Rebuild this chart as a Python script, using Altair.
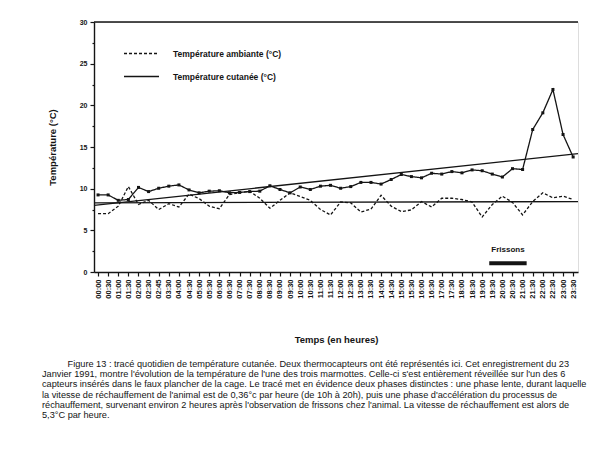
import altair as alt
import pandas as pd

labels = ["00:00", "00:30", "01:00", "01:30", "02:00", "02:30", "02:45", "03:30",
          "04:00", "04:30", "05:00", "05:30", "06:00", "06:30", "07:00", "07:30",
          "08:00", "08:30", "09:00", "09:30", "10:00", "10:30", "11:00", "11:30",
          "12:00", "12:30", "13:00", "13:30", "14:00", "14:30", "15:00", "15:30",
          "16:00", "16:30", "17:00", "17:30", "18:00", "18:30", "19:00", "19:30",
          "20:00", "20:30", "21:00", "21:30", "22:00", "22:30", "23:00", "23:30"]

skin = [9.25, 9.25, 8.6, 8.7, 10.15, 9.65, 10.05, 10.3, 10.45, 9.85, 9.5, 9.7,
        9.75, 9.5, 9.55, 9.65, 9.7, 10.35, 9.9, 9.5, 10.2, 9.9, 10.3, 10.4,
        10.05, 10.25, 10.75, 10.75, 10.55, 11.1, 11.7, 11.45, 11.3, 11.85, 11.75, 12.05,
        11.9, 12.25, 12.15, 11.75, 11.4, 12.4, 12.3, 17.1, 19.1, 21.9, 16.5, 13.8]

ambient = [7.0, 7.0, 7.9, 10.25, 8.1, 8.6, 7.5, 8.2, 7.8, 9.35, 8.8, 7.9,
           7.6, 9.3, 9.5, 9.7, 8.85, 7.65, 8.6, 9.5, 9.05, 8.6, 7.5, 6.85,
           8.4, 8.3, 7.2, 7.55, 9.2, 7.9, 7.25, 7.45, 8.45, 7.8, 8.85, 8.85,
           8.7, 8.4, 6.6, 8.1, 9.1, 8.35, 6.85, 8.45, 9.5, 8.9, 9.1, 8.7]

series_names = ["Température ambiante (°C)", "Température cutanée (°C)"]

# two straight trend lines (start / end values)
trend_names = ["plateau", "pente"]
trend_x = [-0.4, 47.48]
trend_start = [8.3, 8.0]
trend_end = [8.45, 14.2]

# shivering period
shiver_label = "Frissons"
shiver_from = 38.7
shiver_to = 42.4
shiver_level = 1.05
shiver_text_level = 2.7

caption = [
    "\u200b" + "\u00a0" * 10 + "Figure 13 : tracé quotidien de température cutanée. Deux thermocapteurs ont été représentés ici. Cet enregistrement du 23",
    "Janvier 1991, montre l'évolution de la température de l'une des trois marmottes. Celle-ci s'est entièrement réveillée sur l'un des 6",
    "capteurs insérés dans le faux plancher de la cage. Le tracé met en évidence deux phases distinctes : une phase lente, durant laquelle",
    "la vitesse de réchauffement de l'animal est de 0,36°c par heure (de 10h à 20h), puis une phase d'accélération du processus de",
    "réchauffement, survenant environ 2 heures après l'observation de frissons chez l'animal. La vitesse de réchauffement est alors de",
    "5,3°C par heure.",
]

FONT = "Liberation Sans"
INK = "#141414"

rows = []
for i in range(len(labels)):
    rows.append({"i": i, "serie": series_names[0], "v": ambient[i]})
    rows.append({"i": i, "serie": series_names[1], "v": skin[i]})
df = pd.DataFrame(rows)
skin_df = pd.DataFrame({"i": list(range(len(labels))), "v": skin})

trend_rows = []
for n, s, e in zip(trend_names, trend_start, trend_end):
    trend_rows.append({"t": n, "i": trend_x[0], "v": s})
    trend_rows.append({"t": n, "i": trend_x[1], "v": e})
trend_df = pd.DataFrame(trend_rows)

shiver_df = pd.DataFrame({"a": [shiver_from], "b": [shiver_to], "y": [shiver_level],
                          "m": [(shiver_from + shiver_to) / 2], "ty": [shiver_text_level],
                          "txt": [shiver_label]})

label_expr = "[" + ",".join("'" + l + "'" for l in labels) + "][datum.value]"

xscale = alt.Scale(domain=[-0.4, 47.48], nice=False, zero=False)
yscale = alt.Scale(domain=[0, 30], nice=False, zero=True)

x_axis = alt.Axis(values=list(range(len(labels))), labelExpr=label_expr, labelAngle=270,
                  labelFont=FONT, labelFontSize=7.5, labelFontWeight="bold", labelColor=INK,
                  labelPadding=3, labelOverlap=False, labelFlush=False,
                  tickSize=4, tickColor=INK, tickWidth=1.2, domainColor=INK, domainWidth=1.4,
                  grid=False, title="Temps (en heures)", titleFont=FONT, titleFontSize=9.5,
                  titleFontWeight="bold", titleColor=INK, titlePadding=36)

y_axis = alt.Axis(values=[v * 2.5 for v in range(13)],
                  labelExpr="datum.value % 5 === 0 ? datum.label : ''",
                  labelFont=FONT, labelFontSize=7, labelFontWeight="bold", labelColor=INK,
                  labelPadding=3, labelOverlap=False,
                  tickSize={"condition": {"test": "datum.value % 5 === 0", "value": 4}, "value": 2},
                  tickColor=INK, tickWidth=1.2, domainColor=INK, domainWidth=1.4, grid=False,
                  title="Température (°C)", titleFont=FONT, titleFontSize=9.5,
                  titleFontWeight="bold", titleColor=INK, titlePadding=22)

X = alt.X("i:Q", scale=xscale, axis=x_axis)
Y = alt.Y("v:Q", scale=yscale, axis=y_axis)

lines = alt.Chart(df).mark_line(color=INK, strokeWidth=1.3).encode(
    x=X, y=Y,
    strokeDash=alt.StrokeDash("serie:N",
                              scale=alt.Scale(domain=series_names, range=[[3, 2], [1, 0]]),
                              legend=alt.Legend(orient="none", legendX=29, legendY=13, title=None,
                                                symbolType="stroke", symbolSize=1225,
                                                symbolStrokeWidth=1.3, symbolStrokeColor=INK,
                                                labelFont=FONT, labelFontSize=8.5,
                                                labelFontWeight="bold", labelColor=INK,
                                                labelOffset=13, rowPadding=-20)),
    detail="serie:N",
)

dots = alt.Chart(skin_df).mark_point(filled=True, size=9, color=INK, shape="square", opacity=1).encode(
    x=X, y=Y)

trends = alt.Chart(trend_df).mark_line(color=INK, strokeWidth=1.3).encode(
    x=X, y=Y, detail="t:N")

top = alt.Chart(pd.DataFrame({"v": [30]})).mark_rule(color=INK, strokeWidth=1.4).encode(
    y=Y, x=alt.value(0), x2=alt.value(484))

bar = alt.Chart(shiver_df).mark_rule(color=INK, strokeWidth=4, strokeCap="butt").encode(
    x=alt.X("a:Q", scale=xscale, axis=x_axis), x2="b:Q", y=alt.Y("y:Q", scale=yscale, axis=y_axis))

btxt = alt.Chart(shiver_df).mark_text(font=FONT, fontSize=8, fontWeight="bold", color=INK).encode(
    x=alt.X("m:Q", scale=xscale, axis=x_axis), y=alt.Y("ty:Q", scale=yscale, axis=y_axis), text="txt:N")

chart = alt.layer(lines, trends, dots, top, bar, btxt).properties(
    width=484, height=250,
    autosize=alt.AutoSizeParams(type="none"),
    padding={"left": 86, "top": 14, "right": 30, "bottom": 166},
    title=alt.TitleParams(text=caption, orient="bottom", anchor="start", frame="group",
                          dx=-52, offset=16, font=FONT, fontSize=9.2, fontWeight="normal",
                          color=INK, lineHeight=10.3, baseline="top"),
).configure_view(stroke=None).configure(background="white")

chart.save("out.html", embed_options={"renderer": "svg", "actions": False})
